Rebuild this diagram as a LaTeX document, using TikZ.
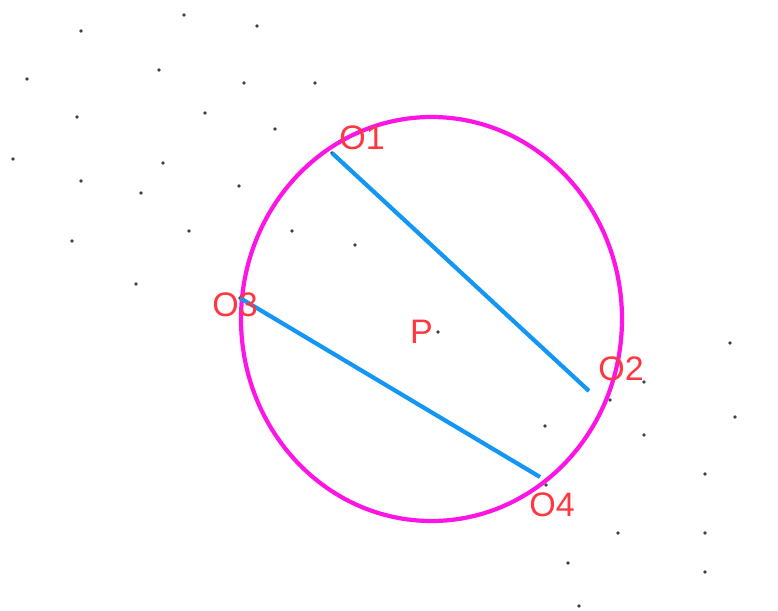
\documentclass[tikz,border=0pt]{standalone}
\usepackage{fontspec}
\setmainfont{Liberation Sans}
\usetikzlibrary{positioning}
\definecolor{rim}{RGB}{255,20,230}
\definecolor{chord}{RGB}{20,150,245}
\definecolor{tagred}{RGB}{255,55,65}
\tikzset{
  pt/.style={circle,fill=black!75,inner sep=0pt,minimum size=3.6pt},
  lbl/.style={text=tagred,font=\fontsize{34}{34}\selectfont,inner sep=0pt},
  chordline/.style={draw=chord,line width=4.2pt},
}
\begin{document}
\begin{tikzpicture}[x=1pt,y=-1pt]
  \useasboundingbox (0,0) rectangle (778,610);
  % scattered points
  \foreach \x/\y [count=\i] in {184/15,257/26,81/31,159/70,27/79,244/83,315/83,77/117,
    205/113,275/129,13/159,163/163,81/181,141/193,239/186,189/231,292/231,355/245,
    72/241,136/284,730/343,644/382,610/400,545/426,735/417,644/435,705/474,546/485,
    618/533,705/533,568/563,705/572,579/606}
    \node[pt] (d\i) at (\x,\y) {};
  % circle
  \draw[rim,line width=4.2pt] (431.5,319) ellipse [x radius=190.5,y radius=202];
  % marked points
  \node[pt] (o1) at (332,153) {};
  \coordinate (o2) at (589,391);
  \node[pt] (o3) at (240,298) {};
  \coordinate (o4) at (540,477);
  \node[pt] (p) at (438,332) {};
  \draw[chordline] (o1.center) -- (o2);
  \draw[chordline] (o3.center) -- (o4);
  % labels
  \node[lbl] (lo1) at (362,138) {O1};
  \node[lbl] (lo2) at (621,369) {O2};
  \node[lbl] (lo3) at (235,305) {O3};
  \node[lbl] (lo4) at (552,505) {O4};
  \node[lbl,left=3pt of p] (lp) {P};
\end{tikzpicture}
\end{document}
